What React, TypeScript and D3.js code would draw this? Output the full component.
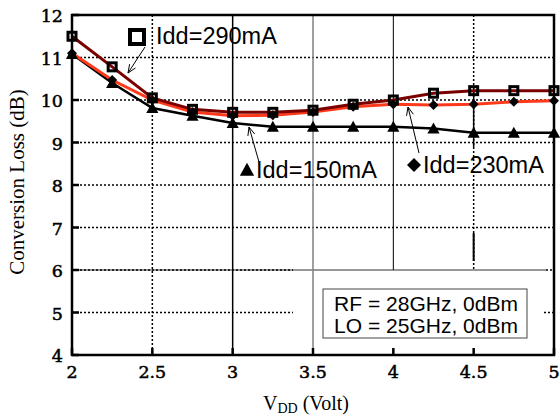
import React from "react";
import * as d3 from "d3";

const vdd = [2, 2.25, 2.5, 2.75, 3, 3.25, 3.5, 3.75, 4, 4.25, 4.5, 4.75, 5];
const idd290 = [11.5, 10.78, 10.05, 9.78, 9.71, 9.71, 9.76, 9.9, 10.0, 10.16, 10.22, 10.22, 10.22];
const idd230 = [11.1, 10.47, 10.0, 9.72, 9.63, 9.64, 9.72, 9.84, 9.9, 9.88, 9.9, 9.96, 9.98];
const idd150 = [11.08, 10.4, 9.81, 9.63, 9.46, 9.37, 9.37, 9.37, 9.37, 9.33, 9.23, 9.23, 9.23];
const xTicks = [2, 2.5, 3, 3.5, 4, 4.5, 5];
const xTickLabels = ["2", "2.5", "3", "3.5", "4", "4.5", "5"];
const yTicks = [4, 5, 6, 7, 8, 9, 10, 11, 12];
const boxLines = ["RF = 28GHz, 0dBm", "LO = 25GHz, 0dBm"];

const W = 560, H = 420;
const L = 72, R = 554, T = 15, B = 355;

export default function App() {
  const x = d3.scaleLinear().domain([2, 5]).range([L, R]);
  const y = d3.scaleLinear().domain([4, 12]).range([B, T]);
  const line = d3.line<number>().x((_, i) => x(vdd[i])).y((v) => y(v));
  const sans = "'Liberation Sans', Arial, sans-serif";
  const serif = "'Liberation Serif', 'Times New Roman', serif";
  const tickFont = "'DejaVu Serif', serif";
  const dot = "2,2";

  const arrow = (x1: number, y1: number, x2: number, y2: number, key: string) => {
    const a = Math.atan2(y2 - y1, x2 - x1);
    const len = 9, sp = 0.4;
    const p1 = [x2 - len * Math.cos(a - sp), y2 - len * Math.sin(a - sp)];
    const p2 = [x2 - len * Math.cos(a + sp), y2 - len * Math.sin(a + sp)];
    return (
      <g key={key} stroke="#000" strokeWidth={1} fill="none">
        <line x1={x1} y1={y1} x2={x2} y2={y2} />
        <polyline points={`${p1[0]},${p1[1]} ${x2},${y2} ${p2[0]},${p2[1]}`} />
      </g>
    );
  };

  const tri = (cx: number, cy: number, s: number) =>
    `M${cx},${cy - s * 0.55} L${cx + s * 0.55},${cy + s * 0.45} L${cx - s * 0.55},${cy + s * 0.45} Z`;
  const dia = (cx: number, cy: number, s: number) =>
    `M${cx},${cy - s} L${cx + s},${cy} L${cx},${cy + s} L${cx - s},${cy} Z`;

  const y6 = y(6);
  const xBoxL = 293, xBoxR = 544;

  return (
    <svg width={W} height={H} style={{ display: "block", position: "absolute", left: 0, top: 0, background: "#fff" }}>
      <rect x={0} y={0} width={W} height={H} fill="#fff" />
      {/* horizontal grid */}
      {yTicks.filter((t) => t > 4 && t < 12 && t !== 6).map((t) => (
        <line key={"hg" + t} x1={L} x2={R} y1={y(t)} y2={y(t)} stroke="#000" strokeWidth={1.5} strokeDasharray={dot} />
      ))}
      <line x1={L} x2={546} y1={y6} y2={y6} stroke="#333" strokeWidth={1} />
      <line x1={L} x2={xBoxL} y1={y6} y2={y6} stroke="#000" strokeWidth={1.5} strokeDasharray={dot} />
      <line x1={546} x2={R} y1={y6} y2={y6} stroke="#000" strokeWidth={1.5} strokeDasharray={dot} />
      {/* vertical grid */}
      <line x1={x(2.5)} x2={x(2.5)} y1={T} y2={B} stroke="#000" strokeWidth={1.5} strokeDasharray={dot} />
      <line x1={x(3)} x2={x(3)} y1={T} y2={B} stroke="#000" strokeWidth={1.5} />
      <line x1={x(4)} x2={x(4)} y1={T} y2={y6} stroke="#000" strokeWidth={1} />
      <line x1={x(4.5)} x2={x(4.5)} y1={T} y2={y6} stroke="#000" strokeWidth={1.5} strokeDasharray={dot} />
      <line x1={x(4.5)} x2={x(4.5)} y1={87} y2={147} stroke="#000" strokeWidth={1.5} />
      <line x1={x(4.5)} x2={x(4.5)} y1={233} y2={261} stroke="#000" strokeWidth={2} />
      {/* white patch */}
      <rect x={xBoxL} y={y6 + 1} width={xBoxR - xBoxL} height={B - y6 - 2} fill="#fff" />
      <line x1={x(3.5)} x2={x(3.5)} y1={T} y2={B} stroke="#808080" strokeWidth={1.5} />

      {/* ticks */}
      {yTicks.map((t) => (
        <line key={"yt" + t} x1={L} x2={L + 7} y1={y(t)} y2={y(t)} stroke="#000" strokeWidth={2.5} />
      ))}
      {xTicks.map((t) => (
        <line key={"xt" + t} x1={x(t)} x2={x(t)} y1={B} y2={B - 7} stroke="#000" strokeWidth={2.5} />
      ))}

      {/* series lines */}
      <path d={line(idd150) || ""} fill="none" stroke="#000" strokeWidth={2.5} />
      <path d={line(idd230) || ""} fill="none" stroke="#ff3a1a" strokeWidth={3} />
      <path d={line(idd290) || ""} fill="none" stroke="#7a0000" strokeWidth={3} />

      {/* markers */}
      {idd150.map((v, i) => (
        <path key={"t" + i} d={tri(x(vdd[i]), y(v), 11)} fill="#000" />
      ))}
      {idd230.map((v, i) => (
        <path key={"d" + i} d={dia(x(vdd[i]), y(v), 5)} fill="#000" />
      ))}
      {idd290.map((v, i) => (
        <rect key={"s" + i} x={x(vdd[i]) - 4} y={y(v) - 4} width={8} height={8} fill="none" stroke="#000" strokeWidth={3} />
      ))}

      {/* frame */}
      <rect x={L} y={T} width={R - L} height={B - T} fill="none" stroke="#000" strokeWidth={2.5} />

      {/* tick labels */}
      {yTicks.map((t) => (
        <text key={"yl" + t} x={63} y={y(t) + 7} textAnchor="end" fontFamily={tickFont} fontSize={17.5} fill="#000" stroke="#000" strokeWidth={0.5}>
          {t}
        </text>
      ))}
      {xTicks.map((t, i) => (
        <text key={"xl" + t} x={x(t)} y={378} textAnchor="middle" fontFamily={tickFont} fontSize={17.5} fill="#000" stroke="#000" strokeWidth={0.5}>
          {xTickLabels[i]}
        </text>
      ))}

      {/* axis titles */}
      <text transform="translate(24,182) rotate(-90)" textAnchor="middle" fontFamily={serif} fontSize={21} fill="#000">
        Conversion Loss (dB)
      </text>
      <text x={263} y={410} fontFamily={serif} fontSize={20} fill="#000">
        V<tspan fontSize={14} dy={3}>DD</tspan>
        <tspan dy={-3}> (Volt)</tspan>
      </text>

      {/* annotations */}
      <rect x={130} y={30} width={14} height={14} fill="#fff" stroke="#000" strokeWidth={4} />
      <text x={156} y={44} fontFamily={sans} fontSize={23.5} fill="#000">Idd=290mA</text>
      {arrow(145, 47, 128, 73, "a290")}

      <path d={tri(247, 170, 13)} fill="#000" />
      <text x={256} y={178} fontFamily={sans} fontSize={23.5} fill="#000">Idd=150mA</text>
      {arrow(259, 162, 249, 127, "a150")}

      <path d={dia(414, 165, 7)} fill="#000" />
      <text x={423} y={173} fontFamily={sans} fontSize={23.5} fill="#000">Idd=230mA</text>
      {arrow(419, 153, 408, 107, "a230")}

      {/* info box */}
      <rect x={323} y={289} width={204} height={49} fill="#fff" stroke="#444" strokeWidth={1} />
      {boxLines.map((s, i) => (
        <text key={"bl" + i} x={426} y={311 + i * 22} textAnchor="middle" fontFamily={sans} fontSize={21} fill="#000">
          {s}
        </text>
      ))}
    </svg>
  );
}
